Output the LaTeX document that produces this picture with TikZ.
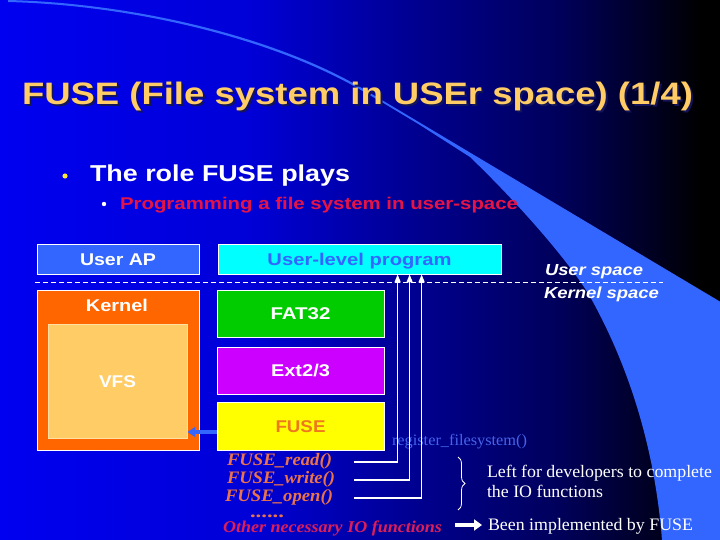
\documentclass[tikz,border=0pt]{standalone}
\usepackage{fontspec}
\setmainfont{Liberation Serif}
\setsansfont{Liberation Sans}
\usetikzlibrary{arrows.meta,decorations.pathreplacing}
\definecolor{bgA}{RGB}{0,0,240}
\definecolor{bgB}{RGB}{0,0,215}
\definecolor{bgC}{RGB}{0,0,150}
\definecolor{bgD}{RGB}{0,0,90}
\definecolor{bgE}{RGB}{0,0,35}
\definecolor{swoosh}{RGB}{51,102,255}
\definecolor{titlecol}{RGB}{255,204,102}
\definecolor{titleshadow}{RGB}{20,20,90}
\definecolor{crimsontxt}{RGB}{230,20,70}
\definecolor{othertxt}{RGB}{220,30,90}
\definecolor{salmon}{RGB}{235,115,75}
\definecolor{fuseorange}{RGB}{238,120,30}
\definecolor{regblue}{RGB}{70,100,235}
\definecolor{userap}{RGB}{51,102,255}
\definecolor{progcol}{RGB}{0,255,255}
\definecolor{kernelcol}{RGB}{255,102,0}
\definecolor{vfscol}{RGB}{255,204,102}
\definecolor{fatcol}{RGB}{0,204,0}
\definecolor{extcol}{RGB}{204,0,255}
\definecolor{fusecol}{RGB}{255,255,0}
\definecolor{dotcol}{RGB}{255,230,60}
\newcommand\fw[2]{\resizebox{#1pt}{\height}{#2}}
\begin{document}
\begin{tikzpicture}[x=1pt,y=-1pt,
  txt/.style={inner sep=0pt, outer sep=0pt, anchor=base west},
  boxlbl/.style={font=\sffamily\bfseries\fontsize{17}{17}\selectfont},
  box/.style={draw=white, line width=0.8pt, inner sep=0pt, text height=12.2pt, text depth=0pt,
    font=\sffamily\bfseries\fontsize{17}{17}\selectfont, text=white},
  uparr/.style={draw=white, line width=1.6pt, -{Triangle[length=8pt,width=6pt]}},
  warrow/.style={draw=white, line width=4pt, -{Triangle[length=8pt,width=11pt]}},
  barrow/.style={draw=swoosh, line width=4.5pt, -{Triangle[length=8pt,width=10pt]}},
  fnc/.style={txt, font=\rmfamily\bfseries\itshape\fontsize{17.5}{17.5}\selectfont, text=salmon},
  plain/.style={txt, font=\rmfamily\fontsize{17.5}{17.5}\selectfont, text=white},
  spacelbl/.style={txt, font=\sffamily\bfseries\itshape\fontsize{16}{16}\selectfont, text=white}
]
\useasboundingbox (0,0) rectangle (720,540);
% background
\shade[left color=bgA, right color=bgB] (0,0) rectangle (251,540);
\shade[left color=bgB, right color=bgC] (250,0) rectangle (401,540);
\shade[left color=bgC, right color=bgD] (400,0) rectangle (561,540);
\shade[left color=bgD, right color=bgE] (560,0) rectangle (651,540);
\shade[left color=bgE, right color=black] (650,0) rectangle (701,540);
\fill[black] (700,0) rectangle (720,540);
% swoosh
\fill[swoosh] (8,0) .. controls (130,3) and (270,35) .. (360,87) -- (720,301.6) -- (720,540) -- (662,540)
  .. controls (655,450) and (630,370) .. (593,302)
  .. controls (575,268) and (520,205) .. (470,157)
  -- (420,125) -- (380,101) -- (360,89.5)
  .. controls (270,37.5) and (130,5) .. (8,2) -- cycle;
% title
\node[txt, text=titleshadow, font=\sffamily\bfseries\fontsize{31}{31}\selectfont] (titleshadow) at (24,107) {\fw{671}{FUSE (File system in USEr space) (1/4)}};
\node[txt, text=titlecol, font=\sffamily\bfseries\fontsize{31}{31}\selectfont] (title) at (22,105) {\fw{671}{FUSE (File system in USEr space) (1/4)}};
% bullets
\fill[dotcol] (65,176) circle (2.6pt);
\node[txt, text=white, font=\sffamily\bfseries\fontsize{23}{23}\selectfont] (role) at (90,182) {\fw{260}{The role FUSE plays}};
\fill[white] (104,204) circle (2.2pt);
\node[txt, text=crimsontxt, font=\sffamily\bfseries\fontsize{17}{17}\selectfont] (prg) at (120,210) {\fw{398}{Programming a file system in user-space}};
% boxes
\node[box, fill=userap, minimum width=162pt, minimum height=30pt] (userap) at (118,259) {\fw{76}{User AP}};
\node[box, fill=progcol, text=swoosh, minimum width=283pt, minimum height=30pt] (prog) at (359.5,259) {\fw{184}{User-level program}};
\coordinate (dl) at (35,282);
\coordinate (dr) at (663,282);
\draw[white, line width=1pt, dash pattern=on 5pt off 3pt] (dl) -- (dr);
\node[spacelbl] (us) at (545,275) {\fw{98}{User space}};
\node[spacelbl] (ks) at (544,298) {\fw{115}{Kernel space}};
\node[box, fill=kernelcol, minimum width=162pt, minimum height=160pt] (kernel) at (118,370) {};
\node[boxlbl, text=white, inner sep=0pt, anchor=base] (kernellbl) at (117,311) {\fw{62}{Kernel}};
\node[box, draw=vfscol!60!white, fill=vfscol, minimum width=139pt, minimum height=114pt] (vfs) at (117.5,381) {\fw{37}{VFS}};
\node[box, fill=fatcol, minimum width=167pt, minimum height=47pt] (fat) at (300.5,313.5) {\fw{60}{FAT32}};
\node[box, fill=extcol, minimum width=167pt, minimum height=47pt] (ext) at (300.5,370.5) {\fw{59}{Ext2/3}};
\node[box, fill=fusecol, text=fuseorange, minimum width=167pt, minimum height=48pt] (fuse) at (300.5,426) {\fw{50}{FUSE}};
% FUSE -> VFS
\coordinate (fa) at ([yshift=-6pt]fuse.west);
\draw[barrow] (fa) -- (fa -| vfs.east);
% register
\node[txt, text=regblue, font=\rmfamily\fontsize{16}{16}\selectfont] (reg) at (392,445) {\fw{135}{register\_filesystem()}};
% functions
\node[fnc] (fread) at (227,465) {\fw{105}{FUSE\_read()}};
\node[fnc] (fwrite) at (227,483) {\fw{108}{FUSE\_write()}};
\node[fnc] (fopen) at (225,501) {\fw{108}{FUSE\_open()}};
\node[fnc, font=\rmfamily\bfseries\fontsize{17.5}{17.5}\selectfont] (dots) at (250,517) {\fw{34}{......}};
\node[fnc, text=othertxt, font=\rmfamily\bfseries\itshape\fontsize{16.5}{16.5}\selectfont] (other) at (223,532) {\fw{219}{Other necessary IO functions}};
\coordinate (s1) at (354,462);
\coordinate (s2) at (354,480);
\coordinate (s3) at (354,498);
\draw[uparr] (s1) -| ([xshift=180pt]prog.south west);
\draw[uparr] (s2) -| ([xshift=192pt]prog.south west);
\draw[uparr] (s3) -| ([xshift=204pt]prog.south west);
% brace
\coordinate (bt) at (458,457);
\coordinate (bb) at (458,510);
\draw[white, line width=0.8pt, decorate, decoration={brace, amplitude=7pt}] (bt) -- (bb);
\node[plain] (left1) at (487,477) {\fw{225}{Left for developers to complete}};
\node[plain] (left2) at (487,497) {\fw{116}{the IO functions}};
\node[plain] (been) at (488,530) {\fw{205}{Been implemented by FUSE}};
\coordinate (wa) at (455,525);
\draw[warrow] (wa) -- ([xshift=-6pt]wa -| been.west);
\end{tikzpicture}
\end{document}
